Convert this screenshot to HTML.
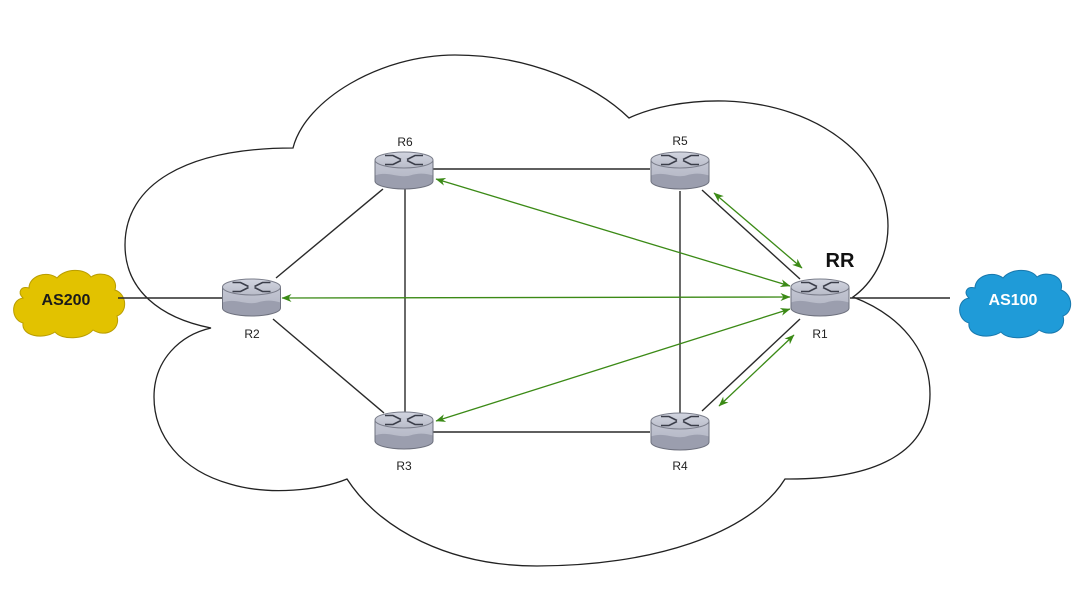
<!DOCTYPE html>
<html>
<head>
<meta charset="utf-8">
<style>
  html,body{margin:0;padding:0;background:#fff;}
  svg{display:block;}
  text{font-family:"Liberation Sans",Arial,sans-serif;}
</style>
</head>
<body>
<svg width="1081" height="600" viewBox="0 0 1081 600" xmlns="http://www.w3.org/2000/svg">
  <defs>
    <linearGradient id="bodyG" x1="0" y1="0" x2="0" y2="1">
      <stop offset="0" stop-color="#c4c7d4"/>
      <stop offset="1" stop-color="#aeb1bf"/>
    </linearGradient>
    <linearGradient id="topG" x1="0" y1="0" x2="0" y2="1">
      <stop offset="0" stop-color="#d2d5e0"/>
      <stop offset="1" stop-color="#b9bcc9"/>
    </linearGradient>
    <marker id="ah" viewBox="0 0 10 8" markerUnits="userSpaceOnUse" markerWidth="10" markerHeight="8" refX="9.5" refY="4" orient="auto-start-reverse">
      <path d="M0,0 L10,4 L0,8 L3,4 Z" fill="#3b8a16"/>
    </marker>
    <g id="router">
      <path d="M-29,-10.5 L-29,10.5 A29,8 0 0 0 29,10.5 L29,-10.5 Z" fill="url(#bodyG)"/>
      <path d="M-29,5 C-16,0 -6,8 6,5 C15,2 22,3 29,5 L29,10.5 A29,8 0 0 1 -29,10.5 Z" fill="#9b9eae"/>
      <path d="M-29,-10.5 L-29,10.5 A29,8 0 0 0 29,10.5 L29,-10.5" fill="none" stroke="#6e717e" stroke-width="1"/>
      <ellipse cx="0" cy="-10.5" rx="29" ry="8" fill="url(#topG)" stroke="#7a7d8a" stroke-width="1"/>
      <path d="M-19,-15 L-11,-15 L-3,-11 M-19,-6 L-11,-6 L-3,-10 M19,-15 L11,-15 L3,-11 M19,-6 L11,-6 L3,-10" fill="none" stroke="#3b3e4a" stroke-width="1.6"/>
    </g>
  </defs>

  <!-- Big cloud -->
  <path d="M211,328
           C160,318 125,290 125,245
           C125,185 185,148 293,148
           C305,100 380,55 455,55
           C530,55 595,85 629,118
           C650,108 685,100 725,101
           C820,104 888,160 888,226
           C888,260 870,285 853,297
           C900,315 930,350 930,394
           C930,450 880,480 785,479
           C750,535 650,566 537,566
           C450,566 380,530 347,479
           C320,490 270,496 230,484
           C180,470 154,435 154,397
           C154,360 180,335 211,328 Z"
        fill="none" stroke="#222" stroke-width="1.3"/>

  <!-- AS200 cloud -->
  <g transform="translate(11,268)">
    <path d="M18,20 C18,8 36,2 46,10 C54,0 74,0 80,9 C90,2 108,8 104,22 C116,26 117,44 106,48 C110,62 94,70 82,62 C74,72 50,72 44,64 C32,72 10,68 12,55 C0,52 -1,32 12,30 C6,24 10,18 18,20 Z"
          fill="#e2c200" stroke="#b99d00" stroke-width="1"/>
  </g>
  <text x="66" y="305" font-size="16" font-weight="bold" text-anchor="middle" fill="#1a1a1a">AS200</text>

  <!-- AS100 cloud -->
  <g transform="translate(957,268)">
    <path d="M18,20 C18,8 36,2 46,10 C54,0 74,0 80,9 C90,2 108,8 104,22 C116,26 117,44 106,48 C110,62 94,70 82,62 C74,72 50,72 44,64 C32,72 10,68 12,55 C0,52 -1,32 12,30 C6,24 10,18 18,20 Z"
          fill="#1f9bd8" stroke="#1878ad" stroke-width="1"/>
  </g>
  <text x="1013" y="305" font-size="16" font-weight="bold" text-anchor="middle" fill="#ffffff">AS100</text>

  <!-- Black links -->
  <g stroke="#2a2a2a" stroke-width="1.4" fill="none">
    <line x1="118" y1="298" x2="222" y2="298"/>
    <line x1="850" y1="298" x2="950" y2="298"/>
    <line x1="433" y1="169" x2="650" y2="169"/>
    <line x1="433" y1="432" x2="650" y2="432"/>
    <line x1="405" y1="189" x2="405" y2="412"/>
    <line x1="680" y1="191" x2="680" y2="413"/>
    <line x1="276" y1="278" x2="383" y2="189"/>
    <line x1="273" y1="319" x2="384" y2="413"/>
    <line x1="702" y1="190" x2="800" y2="279"/>
    <line x1="702" y1="411" x2="800" y2="319"/>
  </g>

  <!-- Green iBGP arrows -->
  <g stroke="#3b8a16" stroke-width="1.3" fill="none" marker-start="url(#ah)" marker-end="url(#ah)">
    <line x1="436" y1="179" x2="790" y2="286"/>
    <line x1="282" y1="298" x2="790" y2="297"/>
    <line x1="436" y1="421" x2="790" y2="309"/>
    <line x1="714" y1="193" x2="802" y2="268"/>
    <line x1="719" y1="406" x2="794" y2="335"/>
  </g>

  <!-- Routers -->
  <use href="#router" x="404" y="170.5"/>
  <use href="#router" x="680" y="170.5"/>
  <use href="#router" x="251.5" y="297.5"/>
  <use href="#router" x="820" y="297.5"/>
  <use href="#router" x="404" y="430.5"/>
  <use href="#router" x="680" y="431.5"/>

  <!-- Labels -->
  <g font-size="12" fill="#222" text-anchor="middle">
    <text x="405" y="146">R6</text>
    <text x="680" y="145">R5</text>
    <text x="252" y="338">R2</text>
    <text x="820" y="338">R1</text>
    <text x="404" y="470">R3</text>
    <text x="680" y="470">R4</text>
  </g>
  <text x="840" y="267" font-size="20" font-weight="bold" text-anchor="middle" fill="#111">RR</text>
</svg>
</body>
</html>
